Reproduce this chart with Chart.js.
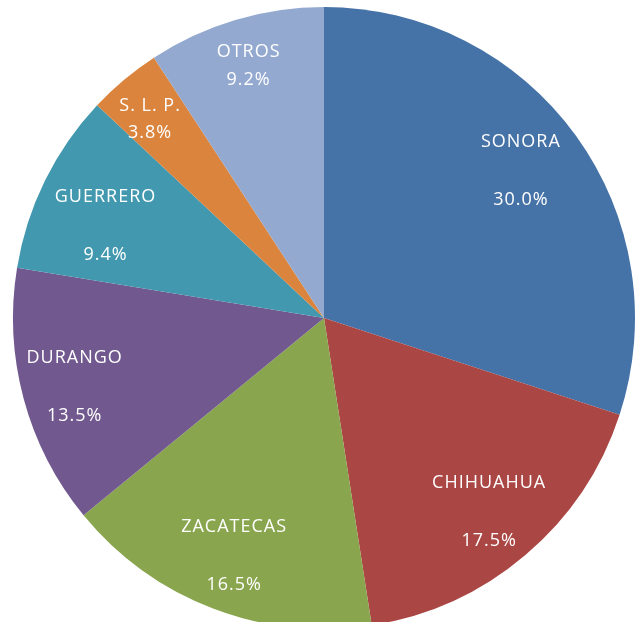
<!DOCTYPE html>
<html>
<head>
<meta charset="utf-8">
<script src="https://cdn.jsdelivr.net/npm/chart.js@4"></script>
<style>
  html, body { margin: 0; padding: 0; background: #fff; overflow: hidden; }
  #wrap { width: 635px; height: 622px; overflow: hidden; position: relative; }
  canvas { position: absolute; left: 0; top: 0; }
</style>
</head>
<body>
<div id="wrap"><canvas id="pie" width="648" height="636"></canvas></div>
<script>
const states = ['SONORA', 'CHIHUAHUA', 'ZACATECAS', 'DURANGO', 'GUERRERO', 'S. L. P.', 'OTROS'];
const shares = [30.0, 17.5, 16.5, 13.5, 9.4, 3.8, 9.2];
const colors = ['#4572A7', '#AA4643', '#89A54E', '#71588F', '#4198AF', '#DB843D', '#93A9CF'];

const fontFamily = "'Open Sans', sans-serif";

// white two-line labels inside each slice
const sliceLabels = {
  id: 'sliceLabels',
  afterDatasetsDraw(chart, args, opts) {
    const ctx = chart.ctx;
    const meta = chart.getDatasetMeta(0);
    ctx.save();
    ctx.fillStyle = '#ffffff';
    ctx.font = '18px ' + fontFamily;
    ctx.letterSpacing = '1px';
    ctx.textAlign = 'center';
    ctx.textBaseline = 'middle';
    meta.data.forEach((arc, i) => {
      const mid = (arc.startAngle + arc.endAngle) / 2;
      const r = arc.outerRadius * opts.radius[i];
      const [dx, dy] = opts.nudge[i];
      const x = arc.x + Math.cos(mid) * r + dx;
      const y = arc.y + Math.sin(mid) * r + dy;
      const gap = opts.gap[i];
      ctx.fillText(states[i], x, y - gap / 2);
      ctx.fillText(shares[i].toFixed(1) + '%', x, y + gap / 2);
    });
    ctx.restore();
  }
};

new Chart(document.getElementById('pie'), {
  type: 'pie',
  data: {
    labels: states,
    datasets: [{
      data: shares,
      backgroundColor: colors,
      borderWidth: 0
    }]
  },
  options: {
    responsive: false,
    animation: false,
    layout: { padding: { top: 7, bottom: 7, left: 0, right: 0 } },
    plugins: {
      legend: { display: false },
      tooltip: { enabled: false },
      sliceLabels: {
        radius: [0.79, 0.81, 0.81, 0.83, 0.765, 0.855, 0.85],
        gap: [58, 58, 58, 58, 58, 27, 28],
        nudge: [[-2, -3], [2, 2], [0, 3], [0, 2], [-5, 13], [-3, 5], [0, 1]]
      }
    }
  },
  plugins: [sliceLabels]
});
</script>
</body>
</html>
